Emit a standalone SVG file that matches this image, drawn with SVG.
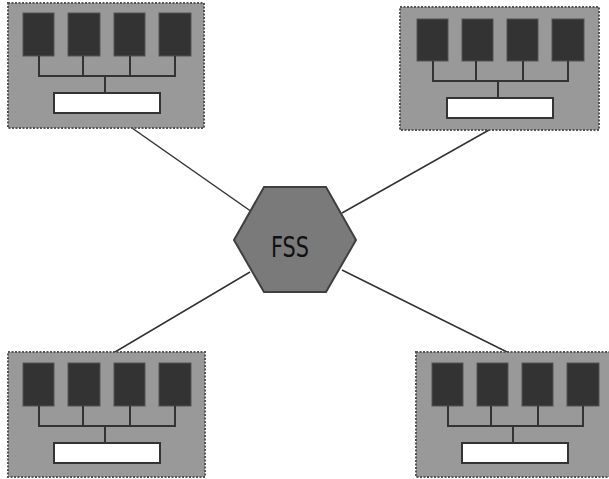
<svg xmlns="http://www.w3.org/2000/svg" width="609" height="479" viewBox="0 0 609 479">
<style>
.box{fill:#999;stroke:#555;stroke-width:2;stroke-dasharray:2 1.5}
.chip{fill:#333;stroke:#555;stroke-width:1}
.bus{fill:none;stroke:#333;stroke-width:2}
.mem{fill:#fff;stroke:#333;stroke-width:2}
.conn{stroke:#333;stroke-width:1.5}
.hex{fill:#7a7a7a;stroke:#404040;stroke-width:2}
.lbl{font-family:"DejaVu Sans Condensed","DejaVu Sans",sans-serif;font-size:29px;fill:#111}
</style>
<g id="connectors">
<line class="conn" x1="132" y1="128" x2="252" y2="212"/>
<line class="conn" x1="489" y1="130" x2="342" y2="213"/>
<line class="conn" x1="115" y1="352" x2="250" y2="272"/>
<line class="conn" x1="507" y1="352" x2="342" y2="270"/>
</g>
<g id="node-tl">
<rect class="box" x="8" y="3" width="196" height="125"/>
<rect class="chip" x="23" y="13" width="31" height="43"/>
<rect class="chip" x="68" y="13" width="32" height="43"/>
<rect class="chip" x="114" y="13" width="31" height="43"/>
<rect class="chip" x="159" y="13" width="32" height="43"/>
<path class="bus" d="M39 56V76M83 56V76M130 56V76M175 56V76M38 76H176M105 76V94"/>
<rect class="mem" x="54" y="93" width="106" height="20"/>
</g>
<g id="node-tr">
<rect class="box" x="400" y="7" width="199" height="123"/>
<rect class="chip" x="417" y="19" width="31" height="42"/>
<rect class="chip" x="462" y="19" width="31" height="42"/>
<rect class="chip" x="507" y="19" width="31" height="42"/>
<rect class="chip" x="552" y="19" width="32" height="42"/>
<path class="bus" d="M433 61V81M476 61V81M523 61V81M568 61V81M432 81H569M498 81V98"/>
<rect class="mem" x="447" y="98" width="106" height="20"/>
</g>
<g id="node-bl">
<rect class="box" x="8" y="352" width="197" height="125"/>
<rect class="chip" x="23" y="363" width="31" height="43"/>
<rect class="chip" x="68" y="363" width="32" height="43"/>
<rect class="chip" x="114" y="363" width="31" height="43"/>
<rect class="chip" x="159" y="363" width="32" height="43"/>
<path class="bus" d="M39 406V426M83 406V426M130 406V426M175 406V426M38 426H176M105 426V443"/>
<rect class="mem" x="54" y="443" width="106" height="20"/>
</g>
<g id="node-br">
<rect class="box" x="416" y="352" width="196" height="125"/>
<rect class="chip" x="432" y="363" width="31" height="43"/>
<rect class="chip" x="477" y="363" width="31" height="43"/>
<rect class="chip" x="522" y="363" width="31" height="43"/>
<rect class="chip" x="567" y="363" width="32" height="43"/>
<path class="bus" d="M448 406V426M491 406V426M538 406V426M583 406V426M447 426H584M513 426V443"/>
<rect class="mem" x="462" y="443" width="106" height="20"/>
</g>
<g id="node-fss">
<polygon class="hex" points="264,187 326,187 356,240 326,292 264,292 234,240"/>
<text class="lbl" x="290" y="257" text-anchor="middle" textLength="38" lengthAdjust="spacingAndGlyphs">FSS</text>
</g>
</svg>
